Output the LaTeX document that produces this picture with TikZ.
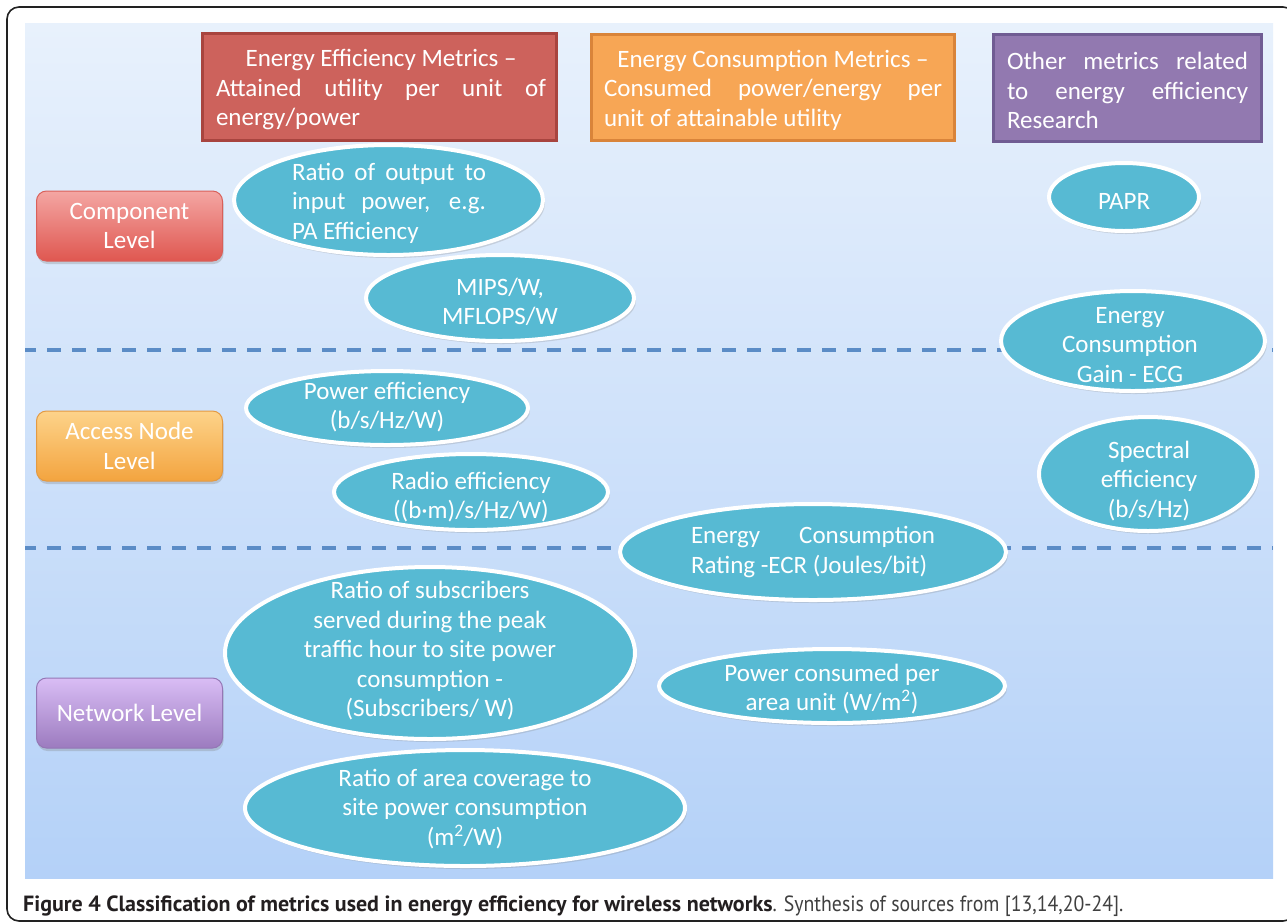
\documentclass[tikz,border=0pt]{standalone}
\usepackage{fontspec}
\setmainfont{Carlito}
\newfontfamily\capfont{PT Sans}
\newfontfamily\capregfont[FakeStretch=0.9]{PT Sans}
\usetikzlibrary{shapes.geometric,shadows}
\definecolor{ellfill}{HTML}{57BAD3}
\definecolor{redfill}{HTML}{CD625C}
\definecolor{redline}{HTML}{A8443F}
\definecolor{orafill}{HTML}{F7A655}
\definecolor{oraline}{HTML}{D9843A}
\definecolor{purfill}{HTML}{9279B0}
\definecolor{purline}{HTML}{705C93}
\definecolor{bgtop}{HTML}{E8F1FC}
\definecolor{bgbot}{HTML}{B4D1F8}
\definecolor{dashcol}{HTML}{5B8CC6}
\definecolor{lvlredtop}{HTML}{F4A6A3}
\definecolor{lvlredbot}{HTML}{DF5750}
\definecolor{lvlredline}{HTML}{D9605A}
\definecolor{lvloratop}{HTML}{FDD38A}
\definecolor{lvlorabot}{HTML}{F3A43F}
\definecolor{lvloraline}{HTML}{E39A43}
\definecolor{lvlpurtop}{HTML}{D9BDF5}
\definecolor{lvlpurbot}{HTML}{9C7BBF}
\definecolor{lvlpurline}{HTML}{9477B5}
\definecolor{capbold}{HTML}{231F20}
\definecolor{capreg}{HTML}{404040}
\definecolor{framecol}{HTML}{222222}
\newcommand\diagfont{\fontsize{25}{29.5}\selectfont}
\newcommand\jline[2]{\makebox[#1][s]{\spaceskip=0pt\xspaceskip=0pt\relax #2}}
\newcommand\lline[2]{\makebox[#1][l]{\spaceskip=0pt\xspaceskip=0pt\relax #2}}
\newcommand\ctrline[2]{\makebox[#1][c]{\spaceskip=0pt\xspaceskip=0pt\relax #2}}
\tikzset{
  ell/.style={ellipse, draw=white, line width=4pt, fill=ellfill, inner sep=0pt,
    drop shadow={opacity=0.25, shadow xshift=2pt, shadow yshift=-3pt}},
  elltext/.style={text=white, align=center, font=\diagfont, inner sep=0pt},
  hdr/.style={rectangle, line width=3pt, inner sep=0pt},
  hdrtext/.style={text=white, align=center, font=\diagfont, inner sep=0pt},
  lvl/.style={rectangle, rounded corners=10pt, minimum width=186pt, minimum height=70pt,
    text=white, align=center, font=\diagfont, line width=1pt, inner sep=0pt,
    drop shadow={opacity=0.3, shadow xshift=1pt, shadow yshift=-3pt}},
  sepline/.style={draw=dashcol, line width=4pt, dash pattern=on 14pt off 11pt, dash phase=3pt},
}
\begin{document}
\begin{tikzpicture}[x=1pt,y=-1pt]
\useasboundingbox (0,0) rectangle (1287,922);
\clip (0,0) rectangle (1287,922);
\fill[white] (0,0) rectangle (1287,922);
% frame
\draw[framecol, line width=1.6pt, rounded corners=12pt] (7,7) rectangle (1295,921);
% background
\shade[top color=bgtop, bottom color=bgbot] (25,23) rectangle (1273,878);
% separators
\coordinate (s1a) at (25,350); \coordinate (s1b) at (1273,350);
\coordinate (s2a) at (25,548); \coordinate (s2b) at (1273,548);
\draw[sepline] (s1a) -- (s1b);
\draw[sepline] (s2a) -- (s2b);
% headers
\node[hdr, draw=redline, fill=redfill, minimum width=354pt, minimum height=107pt] (h1) at (379.5,87) {};
\node[hdrtext] (h1t) at (381,89.5) {\ctrline{330pt}{Energy Efficiency Metrics –}\\\jline{330pt}{Attained utility per unit of}\\\lline{330pt}{energy/power}};
\node[hdr, draw=oraline, fill=orafill, minimum width=363pt, minimum height=106pt] (h2) at (773,87.5) {};
\node[hdrtext] (h2t) at (773,90) {\ctrline{338pt}{Energy Consumption Metrics –}\\\jline{338pt}{Consumed power/energy per}\\\lline{338pt}{unit of attainable utility}};
\node[hdr, draw=purline, fill=purfill, minimum width=268pt, minimum height=107pt] (h3) at (1127.5,88) {};
\node[hdrtext] (h3t) at (1127.5,90.5) {\jline{241pt}{Other metrics related}\\\jline{241pt}{to energy efficiency}\\\lline{241pt}{Research}};
% level boxes
\node[lvl, draw=lvlredline, top color=lvlredtop, bottom color=lvlredbot] (l1) at (129.5,226) {Component\\Level};
\node[lvl, draw=lvloraline, top color=lvloratop, bottom color=lvlorabot] (l2) at (129.5,446) {Access Node\\Level};
\node[lvl, draw=lvlpurline, top color=lvlpurtop, bottom color=lvlpurbot] (l3) at (129.5,713) {Network Level};
% ellipses
\node[ell, minimum width=309pt, minimum height=110pt] (e1) at (388.5,200) {};
\node[elltext] (e1t) at (389,203) {\jline{194pt}{Ratio of output to}\\\jline{194pt}{input power, e.g.}\\\lline{194pt}{PA Efficiency}};
\node[ell, minimum width=268pt, minimum height=86pt] (e2) at (500,298) {};
\node[elltext] (e2t) at (500,302) {MIPS/W,\\MFLOPS/W};
\node[ell, minimum width=150pt, minimum height=68pt] (e3) at (1124,197) {};
\node[elltext] (e3t) at (1124,201) {PAPR};
\node[ell, minimum width=264pt, minimum height=100pt] (e4) at (1133,341) {};
\node[elltext] (e4t) at (1130,345) {Energy\\Consumption\\Gain - ECG};
\node[ell, minimum width=282pt, minimum height=74pt] (e5) at (387,408) {};
\node[elltext] (e5t) at (387,407) {Power efficiency\\(b/s/Hz/W)};
\node[ell, minimum width=274pt, minimum height=76pt] (e6) at (471,492) {};
\node[elltext] (e6t) at (471,497) {Radio efficiency\\((b·m)/s/Hz/W)};
\node[ell, minimum width=218pt, minimum height=114pt] (e7) at (1148,474) {};
\node[elltext] (e7t) at (1149,481) {Spectral\\efficiency\\(b/s/Hz)};
\node[ell, minimum width=386pt, minimum height=96pt] (e8) at (813,552) {};
\node[elltext] (e8t) at (813,552) {\jline{244pt}{Energy Consumption}\\\lline{244pt}{Rating -ECR (Joules/bit)}};
\node[ell, minimum width=410pt, minimum height=172pt] (e9) at (430,653) {};
\node[elltext] (e9t) at (430,651) {Ratio of subscribers\\served during the peak\\traffic hour to site power\\consumption -\\(Subscribers/ W)};
\node[ell, minimum width=346pt, minimum height=74pt] (e10) at (832,686) {};
\node[elltext] (e10t) at (832,689) {Power consumed per\\area unit (W/m\textsuperscript{2})};
\node[ell, minimum width=440pt, minimum height=116pt] (e11) at (465,808) {};
\node[elltext] (e11t) at (465,809) {Ratio of area coverage to\\site power consumption\\(m\textsuperscript{2}/W)};
% caption
\node[anchor=base west, inner sep=0pt, font=\fontsize{22}{26}\selectfont] (cap) at (23,911)
  {\textcolor{capbold}{\capfont\bfseries Figure 4 Classification of metrics used in energy efficiency for wireless networks}\textcolor{capreg}{\capregfont . Synthesis of sources from [13,14,20-24].}};
\end{tikzpicture}
\end{document}
